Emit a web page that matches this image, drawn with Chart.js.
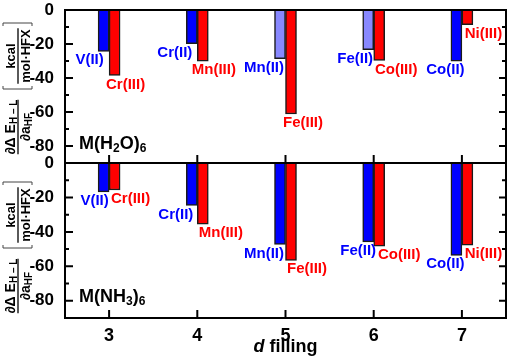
<!DOCTYPE html>
<html>
<head>
<meta charset="utf-8">
<script src="https://cdn.jsdelivr.net/npm/chart.js@4.4.1/dist/chart.umd.min.js"></script>
<style>
  html, body { margin: 0; padding: 0; background: #fff; }
  #wrap { position: relative; width: 510px; height: 361px; overflow: hidden; }
  canvas { position: absolute; left: 0; }
  #topChart { top: -20px; }
  #botChart { top: 140px; }
</style>
</head>
<body>
<div id="wrap">
  <canvas id="topChart" width="510" height="200"></canvas>
  <canvas id="botChart" width="510" height="221"></canvas>
</div>
<script>
// d filling on the x axis
const dFilling = ['3', '4', '5', '6', '7'];
const lowNames = ['V(II)', 'Cr(II)', 'Mn(II)', 'Fe(II)', 'Co(II)'];
const highNames = ['Cr(III)', 'Mn(III)', 'Fe(III)', 'Co(III)', 'Ni(III)'];

// dΔE(H-L)/da(HF), kcal/(mol·HFX)
const aquaLow = [-24.3, -19.8, -28.6, -23.3, -30.1];
const aquaHigh = [-38.5, -30.1, -61.2, -29.7, -8.7];
const ammLow = [-16.8, -24.6, -47.3, -45.8, -53.6];
const ammHigh = [-15.7, -35.5, -56.5, -48.3, -47.7];

const yMin = -90;
const yMax = 0;

const FONT = '"Liberation Sans", Arial, Helvetica, sans-serif';
const BLUE = '#0000ff';
const RED = '#ff0000';
const PALE = '#8888ff';

function formula(ctx, parts, x, base) {
  parts.forEach(p => {
    ctx.font = 'bold ' + (p.sub ? 12 : 18) + 'px ' + FONT;
    ctx.fillText(p.t, x, base + (p.sub ? 3 : 0));
    x += ctx.measureText(p.t).width;
  });
}

function runWidth(ctx, parts) {
  let w = 0;
  parts.forEach(p => {
    ctx.font = 'bold ' + p.size + 'px ' + FONT;
    w += ctx.measureText(p.t).width;
  });
  return w;
}

function drawRun(ctx, parts, u, v) {
  parts.forEach(p => {
    ctx.font = 'bold ' + p.size + 'px ' + FONT;
    ctx.fillText(p.t, u, v + (p.dy || 0));
    u += ctx.measureText(p.t).width;
  });
}

function yTitle(ctx, fracY, brY) {
  ctx.save();
  ctx.translate(18, 0);
  ctx.rotate(-Math.PI / 2);
  ctx.fillStyle = '#000';
  ctx.strokeStyle = '#000';
  ctx.textBaseline = 'alphabetic';
  ctx.textAlign = 'left';

  // derivative fraction
  let uc = -fracY;
  const num = [{t: '\u2202\u0394 E', size: 14}, {t: 'H \u2013 L', size: 10, dy: 2}];
  const den = [{t: '\u2202a', size: 14}, {t: 'HF', size: 10, dy: 2}];
  const wn = runWidth(ctx, num), wd = runWidth(ctx, den);
  drawRun(ctx, num, uc - wn / 2, -3);
  drawRun(ctx, den, uc - wd / 2, 12);
  ctx.lineWidth = 1.3;
  ctx.beginPath();
  ctx.moveTo(uc - wn / 2, 0);
  ctx.lineTo(uc + wn / 2, 0);
  ctx.stroke();

  // units in brackets
  uc = -brY;
  const top = [{t: 'kcal', size: 13}];
  const bot = [{t: 'mol\u00b7HFX', size: 13}];
  const wt = runWidth(ctx, top), wb = runWidth(ctx, bot);
  drawRun(ctx, top, uc - wt / 2, -3);
  drawRun(ctx, bot, uc - wb / 2, 12);
  ctx.beginPath();
  ctx.moveTo(uc - wb / 2 - 1, 0);
  ctx.lineTo(uc + wb / 2 + 1, 0);
  ctx.stroke();
  ctx.lineWidth = 1;
  ctx.strokeStyle = '#444';
  const h = 33;
  ctx.beginPath();
  ctx.moveTo(uc - h + 3, -15); ctx.lineTo(uc - h, -15); ctx.lineTo(uc - h, 14); ctx.lineTo(uc - h + 3, 14);
  ctx.moveTo(uc + h - 3, -15); ctx.lineTo(uc + h, -15); ctx.lineTo(uc + h, 14); ctx.lineTo(uc + h - 3, 14);
  ctx.stroke();
  ctx.restore();
}

const decor = {
  id: 'decor',
  afterDraw(chart, args, o) {
    const ctx = chart.ctx;
    const {left, right, top, bottom} = chart.chartArea;
    const ys = chart.scales.y, xs = chart.scales.x;
    ctx.save();
    ctx.strokeStyle = '#000';
    ctx.lineWidth = 2;
    ctx.strokeRect(left, top, right - left, bottom - top);
    ys.ticks.forEach(t => {
      const py = ys.getPixelForValue(t.value);
      const major = t.value % 20 === 0;
      ctx.beginPath();
      ctx.moveTo(left, py); ctx.lineTo(left + (major ? 8 : 4), py);
      ctx.moveTo(right, py); ctx.lineTo(right - (major ? 7 : 4), py);
      ctx.stroke();
    });
    dFilling.forEach((d, i) => {
      const px = xs.getPixelForValue(i);
      ctx.beginPath();
      ctx.moveTo(px, bottom); ctx.lineTo(px, bottom - 8);
      ctx.stroke();
    });

    // ion labels under the bars
    ctx.font = 'bold 15px ' + FONT;
    ctx.textAlign = 'center';
    ctx.textBaseline = 'middle';
    [0, 1].forEach(di => {
      const meta = chart.getDatasetMeta(di);
      const names = di === 0 ? lowNames : highNames;
      const dx = di === 0 ? o.lowDx : o.highDx;
      ctx.fillStyle = di === 0 ? BLUE : RED;
      meta.data.forEach((bar, i) => {
        ctx.fillText(names[i], bar.x + dx[i], bar.y + 9);
      });
    });

    ctx.fillStyle = '#000';
    ctx.textAlign = 'left';
    ctx.textBaseline = 'alphabetic';
    formula(ctx, o.formula, left + 14, top + 139);

    yTitle(ctx, top + o.fracY, top + o.brY);

    if (o.xTitle) {
      ctx.textAlign = 'left';
      ctx.font = 'italic bold 18px ' + FONT;
      const w1 = ctx.measureText('d').width;
      ctx.font = 'bold 18px ' + FONT;
      const w2 = ctx.measureText(' filling').width;
      const x0 = (left + right) / 2 - (w1 + w2) / 2;
      const by = bottom + 34;
      ctx.font = 'italic bold 18px ' + FONT;
      ctx.fillText('d', x0, by);
      ctx.font = 'bold 18px ' + FONT;
      ctx.fillText(' filling', x0 + w1, by);
    }
    ctx.restore();
  }
};

function makePanel(id, low, high, lowColors, opts) {
  const bottomPanel = opts.xTitle;
  return new Chart(document.getElementById(id), {
    type: 'bar',
    data: {
      labels: dFilling,
      datasets: [
        {data: low, backgroundColor: lowColors, borderColor: '#1a1a1a', borderWidth: 1.5, barThickness: 11},
        {data: high, backgroundColor: RED, borderColor: '#1a1a1a', borderWidth: 1.5, barThickness: 11}
      ]
    },
    options: {
      responsive: false,
      devicePixelRatio: 1,
      animation: false,
      events: [],
      layout: {padding: {left: 0, right: 4, top: opts.padTop, bottom: opts.padBottom}},
      plugins: {legend: {display: false}, tooltip: {enabled: false}, decor: opts},
      scales: {
        x: {
          offset: true,
          grid: {display: false},
          border: {display: false},
          ticks: {
            display: bottomPanel,
            color: '#000',
            padding: -1,
            maxRotation: 0,
            font: {family: FONT, size: 18, weight: 'bold'}
          },
          afterFit: s => { s.height = bottomPanel ? 43 : 0; }
        },
        y: {
          min: yMin,
          max: yMax,
          grid: {display: false},
          border: {display: false},
          afterBuildTicks: s => {
            const t = [];
            for (let v = yMin; v <= yMax; v += 10) t.push({value: v});
            s.ticks = t;
          },
          afterFit: s => { s.width = 65; },
          ticks: {
            autoSkip: false,
            color: '#000',
            padding: 3,
            font: {family: FONT, size: 17, weight: 'bold', lineHeight: 1},
            callback: v => (v % 20 === 0 ? String(v) : '')
          }
        }
      }
    },
    plugins: [decor]
  });
}

makePanel('topChart', aquaLow, aquaHigh,
  [BLUE, BLUE, PALE, PALE, BLUE],
  {
    padTop: 30, padBottom: 17,
    lowDx: [-14, -17, -16, -13, -11],
    highDx: [11, 11, 12, 17, 16],
    formula: [{t: 'M(H'}, {t: '2', sub: true}, {t: 'O)'}, {t: '6', sub: true}],
    fracY: 117, brY: 46,
    xTitle: false
  });

makePanel('botChart', ammLow, ammHigh,
  BLUE,
  {
    padTop: 23, padBottom: 0,
    lowDx: [-9, -16, -16, -10, -11],
    highDx: [16, 18, 16, 20, 16],
    formula: [{t: 'M(NH'}, {t: '3', sub: true}, {t: ')'}, {t: '6', sub: true}],
    fracY: 123, brY: 52,
    xTitle: true
  });
</script>
</body>
</html>
